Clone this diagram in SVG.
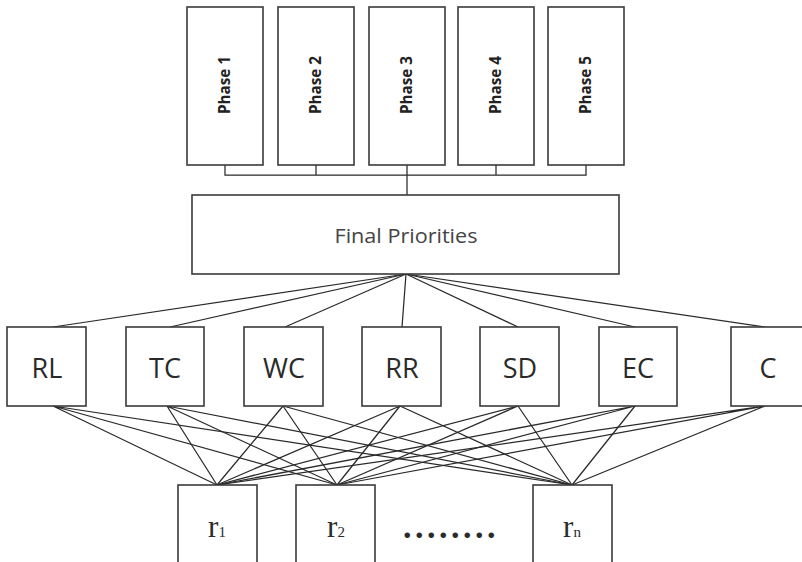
<svg xmlns="http://www.w3.org/2000/svg" width="802" height="562" viewBox="0 0 802 562">
<style>
.box{fill:#fff;stroke:#3a3a3a;stroke-width:1.6}
.ln{fill:none;stroke:#2a2a2a;stroke-width:1.25}
.ph{font-family:"Open Sans","Liberation Sans",sans-serif;font-weight:bold;font-size:16px;fill:#222;text-anchor:middle}
.fp{font-family:"Open Sans","Liberation Sans",sans-serif;font-size:20.5px;fill:#444;text-anchor:middle}
.lb{font-family:"Open Sans","Liberation Sans",sans-serif;font-size:27px;fill:#2a2a2a;text-anchor:middle}
.rl{font-family:"Liberation Serif","Times New Roman",serif;font-size:31px;fill:#2a2a2a;text-anchor:middle}
.sub{font-size:15px}
</style>
<rect width="802" height="562" fill="#fff"/>
<g id="connectors">
<path class="ln" d="M225,165V175H586V165M316,165V175M407,165V195M496,165V175"/>
<g>
<line class="ln" x1="406" y1="274" x2="53" y2="327"/>
<line class="ln" x1="406" y1="274" x2="170" y2="327"/>
<line class="ln" x1="406" y1="274" x2="285" y2="327"/>
<line class="ln" x1="406" y1="274" x2="402" y2="327"/>
<line class="ln" x1="406" y1="274" x2="518" y2="327"/>
<line class="ln" x1="406" y1="274" x2="635" y2="327"/>
<line class="ln" x1="406" y1="274" x2="765" y2="327"/>
</g>
<g>
<path class="ln" d="M53,406L217,485M53,406L337,485M53,406L572,485"/>
<path class="ln" d="M167,406L217,485M167,406L337,485M167,406L572,485"/>
<path class="ln" d="M283,406L217,485M283,406L337,485M283,406L572,485"/>
<path class="ln" d="M400,406L217,485M400,406L337,485M400,406L572,485"/>
<path class="ln" d="M518,406L217,485M518,406L337,485M518,406L572,485"/>
<path class="ln" d="M635,406L217,485M635,406L337,485M635,406L572,485"/>
<path class="ln" d="M765,406L217,485M765,406L337,485M765,406L572,485"/>
</g>
</g>
<g id="phase1"><rect class="box" x="187" y="7" width="76" height="158"/><text class="ph" transform="translate(230,85) rotate(-90)" textLength="58" lengthAdjust="spacingAndGlyphs">Phase 1</text></g>
<g id="phase2"><rect class="box" x="278" y="7" width="76" height="158"/><text class="ph" transform="translate(321,85) rotate(-90)" textLength="58" lengthAdjust="spacingAndGlyphs">Phase 2</text></g>
<g id="phase3"><rect class="box" x="369" y="7" width="76" height="158"/><text class="ph" transform="translate(412,85) rotate(-90)" textLength="58" lengthAdjust="spacingAndGlyphs">Phase 3</text></g>
<g id="phase4"><rect class="box" x="458" y="7" width="76" height="158"/><text class="ph" transform="translate(501,85) rotate(-90)" textLength="58" lengthAdjust="spacingAndGlyphs">Phase 4</text></g>
<g id="phase5"><rect class="box" x="548" y="7" width="76" height="158"/><text class="ph" transform="translate(591,85) rotate(-90)" textLength="58" lengthAdjust="spacingAndGlyphs">Phase 5</text></g>
<g id="final"><rect class="box" x="192" y="195" width="427" height="79"/><text class="fp" x="406" y="243" textLength="143" lengthAdjust="spacingAndGlyphs">Final Priorities</text></g>
<g id="RL"><rect class="box" x="7" y="327" width="79" height="79"/><text class="lb" x="47" y="378">RL</text></g>
<g id="TC"><rect class="box" x="126" y="327" width="78" height="79"/><text class="lb" x="165" y="378">TC</text></g>
<g id="WC"><rect class="box" x="244" y="327" width="79" height="79"/><text class="lb" x="284" y="378">WC</text></g>
<g id="RR"><rect class="box" x="362" y="327" width="79" height="79"/><text class="lb" x="402" y="378">RR</text></g>
<g id="SD"><rect class="box" x="480" y="327" width="79" height="79"/><text class="lb" x="520" y="378">SD</text></g>
<g id="EC"><rect class="box" x="599" y="327" width="78" height="79"/><text class="lb" x="638" y="378">EC</text></g>
<g id="C"><rect class="box" x="731" y="327" width="80" height="79"/><text class="lb" x="768" y="378">C</text></g>
<g id="r1"><rect class="box" x="178" y="485" width="79" height="100"/><text class="rl" x="217" y="537">r<tspan class="sub">1</tspan></text></g>
<g id="r2"><rect class="box" x="296" y="485" width="79" height="100"/><text class="rl" x="336" y="537">r<tspan class="sub">2</tspan></text></g>
<g id="dots"><text class="rl" x="451" y="538" style="font-weight:bold;font-size:34px;letter-spacing:3.5px">........</text></g>
<g id="rn"><rect class="box" x="533" y="485" width="79" height="100"/><text class="rl" x="572" y="537">r<tspan class="sub">n</tspan></text></g>
</svg>
